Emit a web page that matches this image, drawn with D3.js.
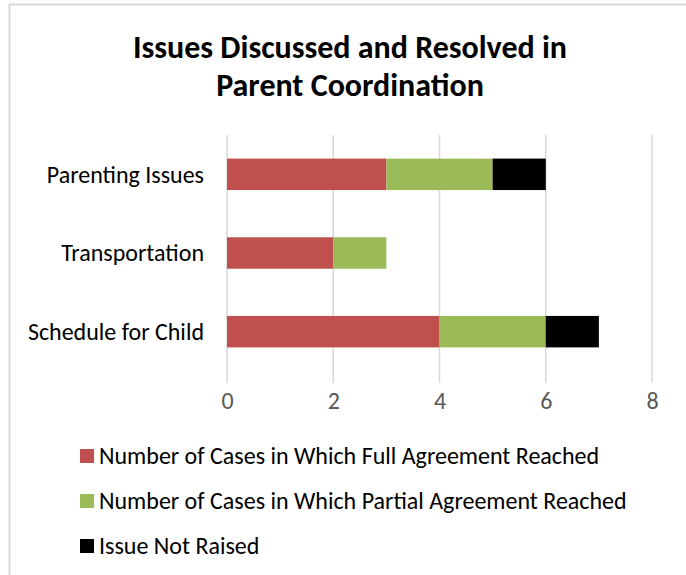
<!DOCTYPE html>
<head>
	<script src="https://d3js.org/d3.v7.min.js"></script>
	<style>
		body { margin: 0; background: #fff; }
		text { font-family: Carlito, Lato, "Open Sans", sans-serif; }
		.title { font-size: 32px; font-weight: bold; fill: #000; }
		.cat { font-size: 24px; fill: #000; }
		.tick text { font-size: 24px; fill: #595959; }
		.legend { font-size: 24px; fill: #000; }
	</style>
</head>
<body>
	<script>
		// data
		var categories = ["Parenting Issues", "Transportation", "Schedule for Child"];
		var seriesNames = [
			"Number of Cases in Which Full Agreement Reached",
			"Number of Cases in Which Partial Agreement Reached",
			"Issue Not Raised"
		];
		var fullAgreement = [3, 2, 4];
		var partialAgreement = [2, 1, 2];
		var notRaised = [1, 0, 1];
		var xTicks = [0, 2, 4, 6, 8];
		var colors = ["#c0504d", "#9bbb59", "#000000"];

		var width = 686, height = 575;

		var svg = d3.select("body").append("svg")
			.attr("width", width)
			.attr("height", height);

		// chart frame
		svg.append("path")
			.attr("d", "M9.5," + height + "V4.5H" + width)
			.attr("fill", "none")
			.attr("stroke", "#d9d9d9")
			.attr("stroke-width", 2);

		// title
		svg.append("text").attr("class", "title")
			.attr("x", 350).attr("y", 58)
			.attr("text-anchor", "middle")
			.text("Issues Discussed and Resolved in");
		svg.append("text").attr("class", "title")
			.attr("x", 350).attr("y", 96)
			.attr("text-anchor", "middle")
			.text("Parent Coordination");

		// stack
		var rows = categories.map(function(c, i) {
			return { cat: c, s0: fullAgreement[i], s1: partialAgreement[i], s2: notRaised[i] };
		});
		var stacked = d3.stack().keys(["s0", "s1", "s2"])(rows);

		// scales
		var x = d3.scaleLinear().domain([0, 8]).range([227, 652]);
		var y = d3.scaleBand().domain(categories).range([135, 371]).paddingInner(0.6).paddingOuter(0.3);

		// gridlines
		svg.append("g").selectAll("line")
			.data(xTicks)
			.enter().append("line")
			.attr("x1", function(d) { return x(d); })
			.attr("x2", function(d) { return x(d); })
			.attr("y1", 135)
			.attr("y2", 383)
			.attr("stroke", "#d9d9d9")
			.attr("stroke-width", 1.5);

		// bars
		svg.append("g").selectAll("g")
			.data(stacked)
			.enter().append("g")
			.attr("fill", function(d, i) { return colors[i]; })
			.selectAll("rect")
			.data(function(d) { return d; })
			.enter().append("rect")
			.attr("x", function(d) { return x(d[0]); })
			.attr("y", function(d) { return y(d.data.cat); })
			.attr("width", function(d) { return x(d[1]) - x(d[0]); })
			.attr("height", y.bandwidth());

		// x axis
		var xAxis = d3.axisBottom(x).tickValues(xTicks).tickSize(0).tickPadding(9);
		var axisX = svg.append("g")
			.attr("transform", "translate(0,383)")
			.call(xAxis);
		axisX.select(".domain").remove();

		// category labels
		svg.append("g").selectAll("text")
			.data(categories)
			.enter().append("text")
			.attr("class", "cat")
			.attr("x", 204)
			.attr("y", function(d) { return y(d) + y.bandwidth() / 2; })
			.attr("dy", "0.35em")
			.attr("text-anchor", "end")
			.text(function(d) { return d; });

		// legend
		var legend = svg.append("g").selectAll("g")
			.data(seriesNames)
			.enter().append("g")
			.attr("transform", function(d, i) { return "translate(80," + (456 + i * 45) + ")"; });
		legend.append("rect")
			.attr("y", -7).attr("width", 14).attr("height", 14)
			.attr("fill", function(d, i) { return colors[i]; });
		legend.append("text")
			.attr("class", "legend")
			.attr("x", 19).attr("dy", "0.35em")
			.text(function(d) { return d; });
	</script>
</body>
</html>
